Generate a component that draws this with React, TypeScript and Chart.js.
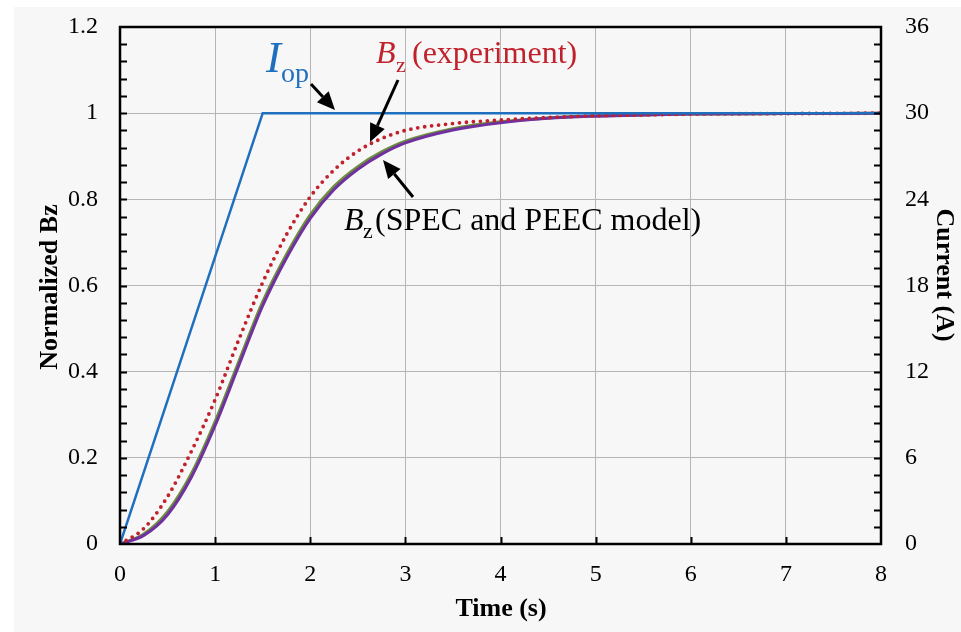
import React, { useEffect, useRef } from 'react';
import { Chart, registerables } from 'chart.js';
Chart.register(...registerables);

const timeS = [0, 0.25, 0.5, 0.75, 1, 1.25, 1.5, 1.75, 2, 2.25, 2.5, 2.75, 3, 3.5, 4, 4.5, 5, 5.5, 6, 7, 8];
const bzExperiment = [0, 0.036, 0.11, 0.215, 0.335, 0.475, 0.607, 0.718, 0.806, 0.868, 0.912, 0.941, 0.96, 0.976, 0.984, 0.99, 0.994, 0.996, 0.998, 0.999, 1.0];
const bzSpec = [0, 0.023, 0.075, 0.163, 0.284, 0.424, 0.562, 0.672, 0.764, 0.830, 0.876, 0.910, 0.935, 0.964, 0.980, 0.989, 0.994, 0.996, 0.998, 0.999, 1.0];
const bzPeec = [0, 0.02, 0.068, 0.155, 0.275, 0.415, 0.553, 0.664, 0.756, 0.823, 0.870, 0.905, 0.931, 0.961, 0.978, 0.988, 0.993, 0.996, 0.998, 0.999, 1.0];
const currentTime = [0, 1.5, 8];
const currentA = [0, 30, 30];

const xTickLabels = ['0', '1', '2', '3', '4', '5', '6', '7', '8'];
const yLeftTickLabels = ['0', '0.2', '0.4', '0.6', '0.8', '1', '1.2'];
const yRightTickLabels = ['0', '6', '12', '18', '24', '30', '36'];

const SERIF = '"Liberation Serif", "Times New Roman", serif';
const BLUE = '#1f6fbf';
const RED = '#c0212b';
const GREEN = '#6b8f3a';
const PURPLE = '#7030a0';

function arrow(ctx: CanvasRenderingContext2D, x1: number, y1: number, x2: number, y2: number) {
  const ang = Math.atan2(y2 - y1, x2 - x1);
  const hl = 18, hw = 8;
  const bx = x2 - hl * Math.cos(ang), by = y2 - hl * Math.sin(ang);
  ctx.save();
  ctx.strokeStyle = '#000';
  ctx.fillStyle = '#000';
  ctx.lineWidth = 3;
  ctx.beginPath();
  ctx.moveTo(x1, y1);
  ctx.lineTo(bx, by);
  ctx.stroke();
  ctx.beginPath();
  ctx.moveTo(x2, y2);
  ctx.lineTo(bx + hw * Math.sin(ang), by - hw * Math.cos(ang));
  ctx.lineTo(bx - hw * Math.sin(ang), by + hw * Math.cos(ang));
  ctx.closePath();
  ctx.fill();
  ctx.restore();
}

const decorPlugin = {
  id: 'decor',
  beforeDraw(chart: any) {
    const ctx = chart.ctx as CanvasRenderingContext2D;
    ctx.save();
    ctx.fillStyle = '#ffffff';
    ctx.fillRect(0, 0, chart.width, chart.height);
    ctx.fillStyle = '#f7f7f7';
    ctx.fillRect(14, 7, chart.width - 14, chart.height - 7);
    ctx.restore();
  },
  afterDraw(chart: any) {
    const ctx = chart.ctx as CanvasRenderingContext2D;
    const { left, right, top, bottom } = chart.chartArea;
    const x = chart.scales.x;
    const y = chart.scales.y;
    ctx.save();
    ctx.strokeStyle = '#000';
    ctx.lineWidth = 2;
    for (let i = 1; i < 30; i++) {
      const yy = Math.round(y.getPixelForValue(i * 0.04)) + 0.5;
      ctx.beginPath();
      ctx.moveTo(left, yy);
      ctx.lineTo(left + 7, yy);
      ctx.moveTo(right, yy);
      ctx.lineTo(right - 7, yy);
      ctx.stroke();
    }
    for (let i = 1; i < 8; i++) {
      const xx = Math.round(x.getPixelForValue(i)) + 0.5;
      ctx.beginPath();
      ctx.moveTo(xx, bottom);
      ctx.lineTo(xx, bottom - 7);
      ctx.stroke();
    }
    ctx.lineWidth = 2.5;
    ctx.strokeRect(left, top, right - left, bottom - top);

    ctx.fillStyle = '#000';
    ctx.font = `bold 26px ${SERIF}`;
    ctx.textAlign = 'center';
    ctx.textBaseline = 'alphabetic';
    ctx.fillText('Time (s)', 501, 616);
    ctx.save();
    ctx.translate(57, 287);
    ctx.rotate(-Math.PI / 2);
    ctx.fillText('Normalized Bz', 0, 0);
    ctx.restore();
    ctx.save();
    ctx.translate(937, 275);
    ctx.rotate(Math.PI / 2);
    ctx.fillText('Current (A)', 0, 0);
    ctx.restore();

    ctx.textAlign = 'left';
    ctx.fillStyle = BLUE;
    ctx.font = `italic 45px ${SERIF}`;
    ctx.fillText('I', 266, 72);
    ctx.font = `28px ${SERIF}`;
    ctx.fillText('op', 281, 82);

    ctx.fillStyle = RED;
    ctx.font = `italic 32px ${SERIF}`;
    ctx.fillText('B', 376, 63);
    ctx.font = `22px ${SERIF}`;
    ctx.fillText('z', 396, 72);
    ctx.font = `32px ${SERIF}`;
    ctx.fillText('(experiment)', 412, 63);

    ctx.fillStyle = '#000';
    ctx.font = `italic 32px ${SERIF}`;
    ctx.fillText('B', 344, 230);
    ctx.font = `22px ${SERIF}`;
    ctx.fillText('z', 363, 238);
    ctx.font = `32px ${SERIF}`;
    ctx.fillText('(SPEC and PEEC model)', 375, 230);

    arrow(ctx, 311, 84, 335, 110);
    arrow(ctx, 398, 80, 370, 142);
    arrow(ctx, 413, 197, 383, 160);
    ctx.restore();
  },
};

export default function App() {
  const ref = useRef<HTMLCanvasElement | null>(null);
  useEffect(() => {
    if (!ref.current) return;
    const pts = (xs: number[], ys: number[]) => xs.map((t, i) => ({ x: t, y: ys[i] }));
    const tickFont = { family: SERIF, size: 24 };
    const chart = new Chart(ref.current, {
      type: 'line',
      data: {
        datasets: [
          {
            label: 'Iop',
            data: pts(currentTime, currentA),
            yAxisID: 'y2',
            borderColor: BLUE,
            borderWidth: 2.5,
            pointRadius: 0,
            tension: 0,
          },
          {
            label: 'Bz (experiment)',
            data: pts(timeS, bzExperiment),
            yAxisID: 'y',
            borderColor: RED,
            borderWidth: 3.8,
            borderDash: [0, 7],
            borderCapStyle: 'round',
            pointRadius: 0,
            cubicInterpolationMode: 'monotone',
          },
          {
            label: 'Bz (PEEC)',
            data: pts(timeS, bzPeec),
            yAxisID: 'y',
            borderColor: PURPLE,
            borderWidth: 3,
            pointRadius: 0,
            cubicInterpolationMode: 'monotone',
          },
          {
            label: 'Bz (SPEC)',
            data: pts(timeS, bzSpec),
            yAxisID: 'y',
            borderColor: GREEN,
            borderWidth: 3,
            pointRadius: 0,
            cubicInterpolationMode: 'monotone',
          },
        ],
      },
      options: {
        animation: false,
        responsive: false,
        maintainAspectRatio: false,
        devicePixelRatio: 1,
        layout: { padding: { top: 27, left: 0, right: 0, bottom: 0 } },
        plugins: { legend: { display: false }, tooltip: { enabled: false } },
        scales: {
          x: {
            type: 'linear',
            min: 0,
            max: 8,
            afterFit: (s: any) => { s.height = 88; s.paddingLeft = 0; s.paddingRight = 0; },
            border: { display: false },
            grid: { color: '#b5b5b5', lineWidth: 1, drawTicks: false },
            ticks: {
              stepSize: 1,
              padding: 16,
              color: '#000',
              font: tickFont,
              maxRotation: 0,
              callback: (v: any) => xTickLabels[Math.round(Number(v))],
            },
          },
          y: {
            type: 'linear',
            position: 'left',
            min: 0,
            max: 1.2,
            afterFit: (s: any) => { s.width = 120; s.paddingTop = 0; s.paddingBottom = 0; },
            border: { display: false },
            grid: { color: '#b5b5b5', lineWidth: 1, drawTicks: false },
            ticks: {
              stepSize: 0.2,
              padding: 22,
              color: '#000',
              font: tickFont,
              callback: (v: any) => yLeftTickLabels[Math.round(Number(v) / 0.2)],
            },
          },
          y2: {
            type: 'linear',
            position: 'right',
            min: 0,
            max: 36,
            afterFit: (s: any) => { s.width = 80; s.paddingTop = 0; s.paddingBottom = 0; },
            border: { display: false },
            grid: { display: false, drawTicks: false },
            ticks: {
              stepSize: 6,
              padding: 24,
              color: '#000',
              font: tickFont,
              callback: (v: any) => yRightTickLabels[Math.round(Number(v) / 6)],
            },
          },
        },
      },
      plugins: [decorPlugin],
    } as any);
    return () => chart.destroy();
  }, []);
  return (
    <div style={{ position: 'fixed', left: 0, top: 0, width: 961, height: 632 }}>
      <canvas ref={ref} width={961} height={632} style={{ display: 'block' }} />
    </div>
  );
}
